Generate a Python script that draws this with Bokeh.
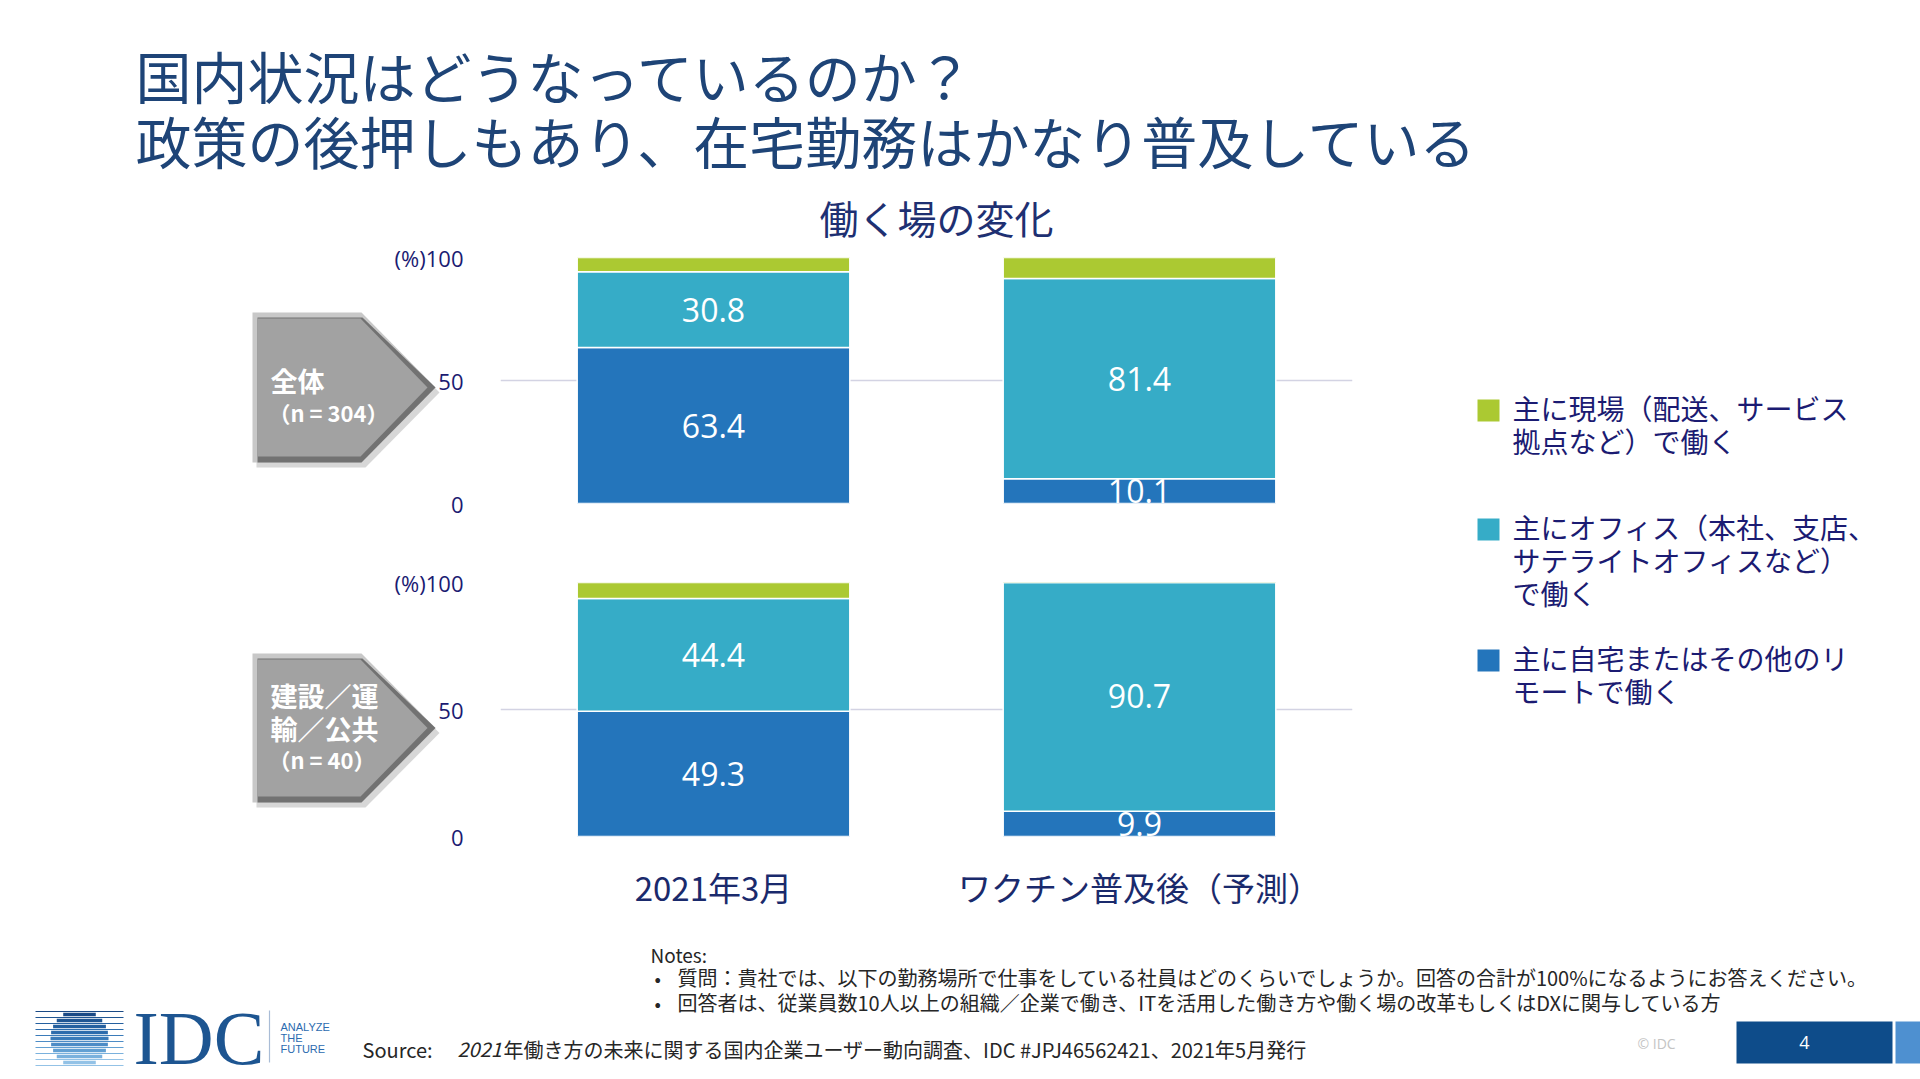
import math
from bokeh.plotting import figure
from bokeh.models import Range1d, FactorRange, Column, ColumnDataSource
from bokeh.core.properties import value
from bokeh.embed import file_html
from bokeh.resources import INLINE

W, H = 1920, 1079

# ---------------- data ----------------
periods = ["2021年3月", "ワクチン普及後（予測）"]
series = ["remote", "office", "field"]
series_colors = ["#2475BB", "#36ACC7", "#ABC932"]

all_remote = [63.4, 10.1]
all_office = [30.8, 81.4]
all_field = [5.8, 8.5]

con_remote = [49.3, 9.9]
con_office = [44.4, 90.7]
con_field = [6.3, 0.0]

y_ticks = [0, 50, 100]
y_tick_labels = ["0", "50", "(%)100"]

legend_items = [
    ("field", ["主に現場（配送、サービス", "拠点など）で働く"]),
    ("office", ["主にオフィス（本社、支店、", "サテライトオフィスなど）", "で働く"]),
    ("remote", ["主に自宅またはその他のリ", "モートで働く"]),
]
title_lines = ["国内状況はどうなっているのか？", "政策の後押しもあり、在宅勤務はかなり普及している"]
chart_title = "働く場の変化"
group_labels = [["全体"], ["建設／運", "輸／公共"]]
group_n = ["（n = 304）", "（n = 40）"]
notes_head = "Notes:"
notes = [
    "質問：貴社では、以下の勤務場所で仕事をしている社員はどのくらいでしょうか。回答の合計が100%になるようにお答えください。",
    "回答者は、従業員数10人以上の組織／企業で働き、ITを活用した働き方や働く場の改革もしくはDXに関与している方",
]
source_head = "Source:"
source_year = "2021"
source_rest = "年働き方の未来に関する国内企業ユーザー動向調査、IDC #JPJ46562421、2021年5月発行"

JP_NAME = "Noto Sans CJK JP"
NUM_NAME = "Open Sans"
JP = value(JP_NAME)
NUM = value(NUM_NAME)
NAVY = "#1B1B72"
color_of = dict(zip(series, series_colors))

# ---------------- chart figures ----------------
FRAME_L, FRAME_R = 500, 1352


def make_chart(remote, office, field, frame_top, frame_bottom, show_x):
    p = figure(width=W, height=H,
               x_range=FactorRange(factors=periods, range_padding=0),
               y_range=Range1d(0, 100),
               output_backend="svg", toolbar_location=None, title=None,
               min_border_left=FRAME_L, min_border_right=W - FRAME_R,
               min_border_top=frame_top, min_border_bottom=H - frame_bottom,
               background_fill_color=None, border_fill_color=None,
               outline_line_color=None, margin=(-H, 0, 0, 0))
    src = ColumnDataSource(dict(period=periods, remote=remote, office=office, field=field))
    p.vbar_stack(series, x="period", width=0.64, source=src,
                 fill_color=series_colors, line_color="white", line_width=1.5)
    lab = ColumnDataSource(dict(
        x=periods + periods,
        y=[r / 2 for r in remote] + [r + o / 2 for r, o in zip(remote, office)],
        t=[f"{v:.1f}" for v in remote] + [f"{v:.1f}" for v in office]))
    p.text(x="x", y="y", text="t", source=lab, text_color="white",
           text_font=NUM, text_font_size="32px",
           text_align="center", text_baseline="middle")

    p.yaxis.ticker = y_ticks
    p.yaxis.major_label_overrides = dict(zip(y_ticks, y_tick_labels))
    p.yaxis.axis_line_color = None
    p.yaxis.major_tick_line_color = None
    p.yaxis.minor_tick_line_color = None
    p.yaxis.major_label_text_font = NUM_NAME
    p.yaxis.major_label_text_font_size = "22px"
    p.yaxis.major_label_text_color = NAVY
    p.yaxis.major_label_standoff = 31

    p.ygrid.ticker = y_ticks
    p.ygrid.grid_line_color = "#D3D3E3"
    p.ygrid.grid_line_width = 1.5
    p.xgrid.visible = False

    if show_x:
        p.xaxis.axis_line_color = None
        p.xaxis.major_tick_line_color = None
        p.xaxis.minor_tick_line_color = None
        p.xaxis.major_label_text_font = JP_NAME
        p.xaxis.major_label_text_font_size = "33px"
        p.xaxis.major_label_text_color = "#1A2A6C"
        p.xaxis.major_label_standoff = 20
    else:
        p.xaxis.visible = False
    return p


top = make_chart(all_remote, all_office, all_field, 257, 503, False)
bot = make_chart(con_remote, con_office, con_field, 582, 836, True)

# ---------------- page background / decorations ----------------
# Its frame is aligned with the charts' frames by the column layout, so the
# x range is set to page pixels over that frame; decorations are drawn at the
# overlay level so that they are not clipped to the frame.
bg = figure(width=W, height=H, x_range=Range1d(FRAME_L, FRAME_R), y_range=Range1d(H, 0),
            output_backend="svg", toolbar_location=None,
            min_border_left=FRAME_L, min_border_right=W - FRAME_R,
            min_border_top=0, min_border_bottom=0,
            x_axis_type=None, y_axis_type=None, outline_line_color=None,
            background_fill_color="white", border_fill_color="white", margin=(0, 0, 0, 0))
bg.xgrid.visible = False
bg.ygrid.visible = False
OV = dict(level="overlay")

# main title
bg.text(x=[135, 135], y=[74, 139], text=title_lines, text_font=JP,
        text_font_size="56px", text_color="#1E4477", text_baseline="middle", **OV)
# chart title
bg.text(x=[936], y=[216], text=[chart_title], text_font=JP, text_font_size="39px",
        text_color="#1E3072", text_align="center", text_baseline="middle", **OV)


# chevrons
def chevron(top_y, bottom_y, lines, ntext):
    L, S, T = 252, 361, 435
    mid = (top_y + bottom_y) / 2
    bg.patch([L + 4, S + 4, T + 4, S + 4, L + 4],
             [top_y + 5, top_y + 5, mid + 5, bottom_y + 5, bottom_y + 5],
             fill_color="#BDBDBD", fill_alpha=0.6, line_color=None, **OV)
    bg.patch([L, S, T, S, L], [top_y, top_y, mid, bottom_y, bottom_y],
             fill_color="#C8C8C8", line_color=None, **OV)
    bg.patch([L + 5, S + 1, T, S, L + 5], [top_y + 5, top_y + 5, mid, bottom_y, bottom_y],
             fill_color="#727272", line_color=None, **OV)
    bg.patch([L + 5, S - 1, T - 8, S - 1, L + 5],
             [top_y + 6, top_y + 6, mid, bottom_y - 6, bottom_y - 6],
             fill_color="#A2A2A2", line_color=None, **OV)
    n = len(lines)
    ys = [mid - 7 - 26 * (n - 1) + 33 * i for i in range(n)]
    bg.text(x=[270] * n, y=ys, text=lines, text_font=JP, text_font_size="27px",
            text_font_style="bold", text_color="white", text_baseline="middle", **OV)
    bg.text(x=[268], y=[ys[-1] + 31], text=[ntext], text_font=JP, text_font_size="22px",
            text_font_style="bold", text_color="white", text_baseline="middle", **OV)


chevron(312, 462, group_labels[0], group_n[0])
chevron(653, 802, group_labels[1], group_n[1])

# legend
leg_tops = [399, 518, 649]
for (key, lines), t in zip(legend_items, leg_tops):
    bg.quad(left=[1477], right=[1499], top=[t], bottom=[t + 22],
            fill_color=color_of[key], line_color=None, **OV)
    bg.text(x=[1512] * len(lines), y=[t + 8 + 33 * i for i in range(len(lines))],
            text=lines, text_font=JP, text_font_size="28px", text_color=NAVY,
            text_baseline="middle", **OV)

# notes
bg.text(x=[650], y=[954], text=[notes_head], text_font=JP, text_font_size="19px",
        text_color="#262626", text_baseline="middle", **OV)
bg.text(x=[654, 654], y=[977, 1002], text=["•", "•"], text_font=JP, text_font_size="19px",
        text_color="#262626", text_baseline="middle", **OV)
bg.text(x=[677, 677], y=[977, 1002], text=notes, text_font=JP, text_font_size="20px",
        text_color="#262626", text_baseline="middle", **OV)

# source
bg.text(x=[362], y=[1049], text=[source_head], text_font=JP, text_font_size="20px",
        text_color="#262626", text_baseline="middle", **OV)
bg.text(x=[457], y=[1049], text=[source_year], text_font=JP, text_font_size="20px",
        text_font_style="italic", text_color="#262626", text_baseline="middle", **OV)
bg.text(x=[503], y=[1049], text=[source_rest], text_font=JP, text_font_size="20px",
        text_color="#262626", text_baseline="middle", **OV)

# IDC logo
cx, cy, r = 79, 1038, 29
band_cols = ["#1B4A85", "#1F5592", "#25609F", "#2D6CAC", "#3A7BB9",
             "#4D8CC6", "#62A0D3", "#7AB1DD", "#93C2E6"]
line_ys = [1011 + 6 * k for k in range(10)]
for k, c in enumerate(band_cols):
    y0 = line_ys[k] + 1.2
    y1 = line_ys[k + 1] - 1.2
    dy = (y0 + y1) / 2 - cy
    hw = math.sqrt(max(r * r - dy * dy, 0))
    bg.quad(left=[cx - hw], right=[cx + hw], top=[y0], bottom=[y1],
            fill_color=c, line_color=None, **OV)
for k, yy in enumerate(line_ys):
    bg.segment(x0=[35], y0=[yy], x1=[123], y1=[yy],
               line_color=band_cols[min(k, len(band_cols) - 1)], line_width=1, **OV)
bg.text(x=[133], y=[1037], text=["IDC"], text_font=value("Liberation Serif"),
        text_font_size="76px", text_color="#1D5591", text_baseline="middle", **OV)
bg.segment(x0=[269], y0=[1010], x1=[269], y1=[1062], line_color="#A9BCD6",
           line_width=1.2, **OV)
bg.text(x=[280, 280, 280], y=[1026, 1037, 1048], text=["ANALYZE", "THE", "FUTURE"],
        text_font=value("Liberation Sans"), text_font_size="11px",
        text_color="#2C6BB0", text_baseline="middle", **OV)

# footer
bg.text(x=[1637], y=[1043], text=["© IDC"], text_font=NUM, text_font_size="14px",
        text_color="#C4C4C4", text_baseline="middle", **OV)
bg.quad(left=[1736], right=[1892], top=[1021], bottom=[1063], fill_color="#0E4C8A",
        line_color=None, **OV)
bg.quad(left=[1895], right=[1920], top=[1021], bottom=[1063], fill_color="#4E90D0",
        line_color=None, **OV)
bg.text(x=[1804], y=[1042], text=["4"], text_font=NUM, text_font_size="18px",
        text_color="white", text_align="center", text_baseline="middle", **OV)

page = Column(children=[bg, top, bot], spacing=0)

open("out.html", "w").write(file_html(page, INLINE))
